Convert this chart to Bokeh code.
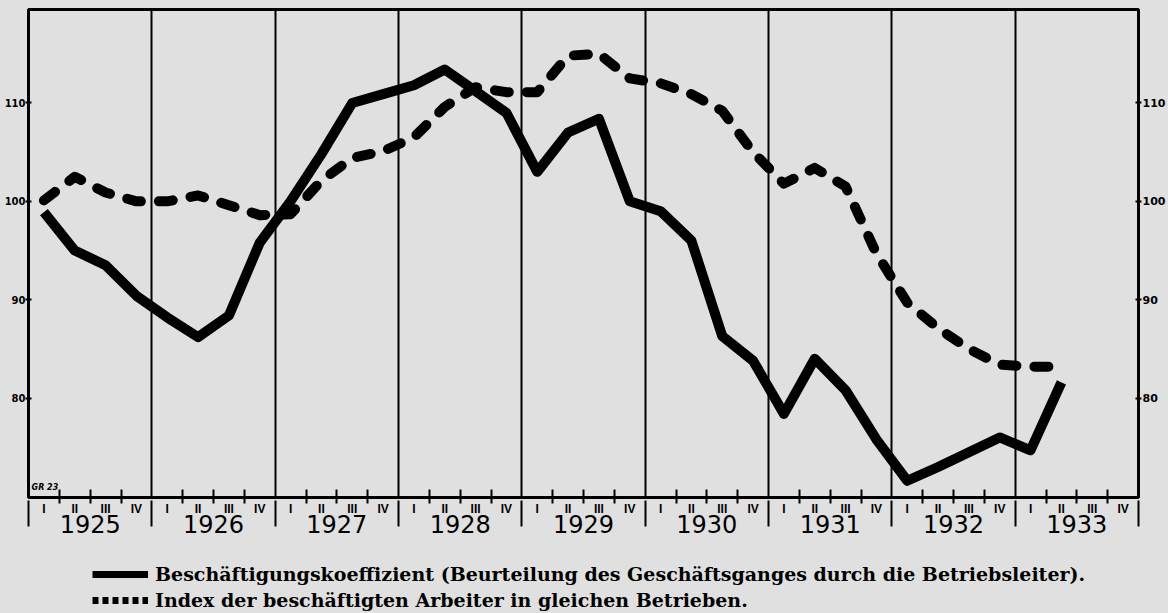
from bokeh.plotting import figure
from bokeh.layouts import column
from bokeh.models import (Range1d, LinearAxis, FixedTicker, Label, Legend, LegendItem,
                          CustomJSTickFormatter)
from bokeh.embed import file_html
from bokeh.resources import INLINE

# ---------------- data ----------------
years = ["1925", "1926", "1927", "1928", "1929", "1930", "1931", "1932", "1933"]
quarter_names = ["I", "II", "III", "IV"]
y_ticks = [80, 90, 100, 110]

# Beschäftigungskoeffizient (quarterly, 1925 I – 1933 II)
koeffizient = [98.9, 95.0, 93.5, 90.4,
               88.2, 86.2, 88.4, 95.8,
               100.0, 104.8, 110.0, 110.9,
               111.8, 113.4, 111.2, 109.0,
               103.0, 107.0, 108.4, 100.0,
               99.0, 96.0, 86.3, 83.8,
               78.4, 84.0, 80.8, 75.8,
               71.6, 73.0, 74.5, 76.0,
               74.7, 81.6]

# Index der beschäftigten Arbeiter (quarterly, 1925 I – 1933 II)
index_arbeiter = [100.1, 102.5, 100.9, 100.0,
                  100.0, 100.6, 99.6, 98.6,
                  98.7, 102.1, 104.4, 105.1,
                  106.5, 109.6, 111.6, 111.1,
                  111.1, 114.8, 115.0, 112.5,
                  112.0, 110.9, 109.2, 105.0,
                  101.8, 103.4, 101.5, 94.7,
                  89.7, 87.1, 85.0, 83.4,
                  83.2, 83.2]

label_solid = "Beschäftigungskoeffizient (Beurteilung des Geschäftsganges durch die Betriebsleiter)."
label_dash = "Index der beschäftigten Arbeiter in gleichen Betrieben."

# ---------------- layout ----------------
W = 1168
H_MAIN = 548
H_LEG = 65
B_LEFT, B_RIGHT, B_TOP = 28, 27, 9
FRAME_BOTTOM = 497
B_BOTTOM = H_MAIN - FRAME_BOTTOM
Y0, Y1 = 69.9, 119.5
BG = "#e0e0e0"

n_quarters = len(years) * 4
x_pts = [i + 0.5 for i in range(len(koeffizient))]

p = figure(width=W, height=H_MAIN, output_backend="svg", toolbar_location=None,
           x_range=Range1d(0, n_quarters), y_range=Range1d(Y0, Y1),
           min_border_left=B_LEFT, min_border_right=B_RIGHT,
           min_border_top=B_TOP, min_border_bottom=B_BOTTOM,
           background_fill_color=BG, border_fill_color=BG,
           outline_line_color="black", outline_line_width=3)

frame_h = FRAME_BOTTOM - B_TOP
upp = (Y1 - Y0) / frame_h  # data units per pixel

# grid: vertical year lines only
p.ygrid.visible = False
p.xgrid.ticker = FixedTicker(ticks=[4 * k for k in range(1, len(years))])
p.xgrid.grid_line_color = "black"
p.xgrid.grid_line_width = 2

# bottom axis A: quarter boundaries + quarter names
xa = p.xaxis[0]
xa.ticker = FixedTicker(ticks=[i + 0.5 for i in range(n_quarters)],
                        minor_ticks=[q for q in range(n_quarters + 1) if q % 4 != 0])
xa.formatter = CustomJSTickFormatter(args=dict(names=quarter_names),
                                     code="return names[Math.floor(tick) % 4];")
xa.axis_line_width = 2
xa.major_tick_in = 0
xa.major_tick_out = 0
xa.major_tick_line_color = None
xa.minor_tick_in = 8
xa.minor_tick_out = 6
xa.minor_tick_line_width = 2
xa.major_label_standoff = -2
xa.major_label_text_font = "Liberation Sans"
xa.major_label_text_font_style = "bold"
xa.major_label_text_font_size = "12px"
xa.major_label_text_color = "black"

# bottom axis B: long year boundary ticks + year labels
xb = LinearAxis(ticker=FixedTicker(ticks=[4 * k + 2 for k in range(len(years))],
                                   minor_ticks=[4 * k for k in range(len(years) + 1)]),
                formatter=CustomJSTickFormatter(args=dict(years=years),
                                                code="return years[Math.floor(tick / 4)];"))
xb.axis_line_color = None
xb.major_tick_line_color = None
xb.major_tick_in = 0
xb.major_tick_out = 0
xb.minor_tick_in = 18
xb.minor_tick_out = 8
xb.minor_tick_line_width = 2
xb.minor_tick_line_color = "black"
xb.major_label_standoff = -12
xb.major_label_text_font = "DejaVu Sans"
xb.major_label_text_font_size = "24px"
xb.major_label_text_color = "black"
p.add_layout(xb, "below")

# left axis
ya = p.yaxis[0]
ya.ticker = FixedTicker(ticks=y_ticks)
ya.axis_line_width = 2
ya.major_tick_in = 3
ya.major_tick_out = 3
ya.major_tick_line_width = 2
ya.minor_tick_line_color = None
ya.major_label_standoff = 0
ya.major_label_text_font = "DejaVu Sans"
ya.major_label_text_font_style = "bold"
ya.major_label_text_font_size = "10px"
ya.major_label_text_color = "black"

# right axis
ra = LinearAxis(ticker=FixedTicker(ticks=y_ticks))
ra.axis_line_width = 2
ra.major_tick_in = 3
ra.major_tick_out = 3
ra.major_tick_line_width = 2
ra.minor_tick_line_color = None
ra.major_label_standoff = 1
ra.major_label_text_font = "DejaVu Sans"
ra.major_label_text_font_style = "bold"
ra.major_label_text_font_size = "11px"
ra.major_label_text_color = "black"
p.add_layout(ra, "right")

# series
solid_style = dict(line_color="black", line_width=10, line_join="round", line_cap="butt")
dash_style = dict(line_color="black", line_width=10, line_dash="14 18",
                  line_cap="round", line_join="round")
p.line(x_pts, koeffizient, **solid_style)
p.line(x_pts, index_arbeiter, **dash_style)

# small maker mark
p.add_layout(Label(x=0.1, y=Y0 + 10 * upp, text="GR 23", text_font="DejaVu Sans",
                   text_font_style="bold italic", text_font_size="8px",
                   text_baseline="middle", text_color="black"))

# ---------------- legend strip below ----------------
lf = figure(width=W, height=H_LEG, output_backend="svg", toolbar_location=None,
            x_axis_type=None, y_axis_type=None,
            x_range=Range1d(-100, -99), y_range=Range1d(0, 1),
            min_border=0, background_fill_color=BG, border_fill_color=BG,
            outline_line_color=None)
lf.grid.visible = False
# same series, drawn outside this strip's visible range: only their legend samples show
r_solid = lf.line(x_pts, koeffizient, line_color="black", line_width=7, line_cap="butt")
r_dash = lf.line(x_pts, index_arbeiter, line_color="black", line_width=7,
                 line_dash="6 4", line_cap="butt")

# the strip's frame is aligned with the chart frame (starts at B_LEFT)
legend = Legend(items=[LegendItem(label=label_solid, renderers=[r_solid]),
                       LegendItem(label=label_dash, renderers=[r_dash])],
                location=(92 - B_LEFT, 2), orientation="vertical",
                glyph_width=56, glyph_height=20, label_height=20,
                label_standoff=7, spacing=4, padding=0, margin=0,
                label_text_font="DejaVu Serif", label_text_font_style="bold",
                label_text_font_size="19px", label_text_color="black",
                background_fill_alpha=0, border_line_alpha=0)
lf.add_layout(legend)

layout = column(p, lf, spacing=0, styles={"background-color": BG})
open("out.html", "w").write(file_html(layout, INLINE))
